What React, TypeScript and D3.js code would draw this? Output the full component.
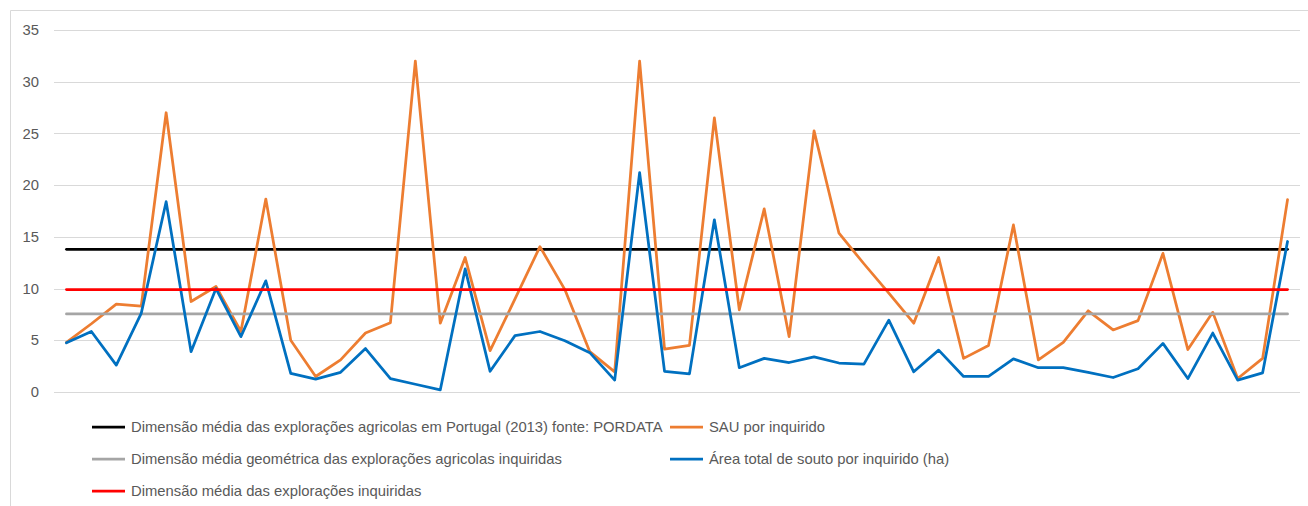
import React from "react";
import * as d3 from "d3";

const categories: number[] = d3.range(1, 51);

const sauPorInquirido: number[] = [
  4.8, 6.6, 8.5, 8.3, 27.0, 8.75, 10.2, 5.85, 18.65, 5.0,
  1.5, 3.1, 5.7, 6.7, 32.0, 6.65, 13.0, 4.0, 9.0, 14.05,
  9.9, 3.9, 1.95, 32.0, 4.15, 4.5, 26.5, 7.95, 17.7, 5.35,
  25.25, 15.35, 12.4, 9.55, 6.65, 13.0, 3.25, 4.5, 16.15, 3.1,
  4.8, 7.85, 6.0, 6.9, 13.4, 4.1, 7.7, 1.3, 3.25, 18.6,
];

const areaSouto: number[] = [
  4.75, 5.85, 2.6, 7.6, 18.4, 3.9, 10.0, 5.35, 10.75, 1.8,
  1.25, 1.9, 4.2, 1.3, 0.75, 0.2, 11.9, 2.0, 5.45, 5.85,
  4.95, 3.8, 1.15, 21.2, 2.0, 1.75, 16.65, 2.35, 3.25, 2.85,
  3.4, 2.8, 2.7, 6.95, 1.95, 4.05, 1.5, 1.5, 3.2, 2.35,
  2.35, 1.9, 1.4, 2.25, 4.7, 1.3, 5.7, 1.15, 1.85, 14.55,
];

const mediaPortugal = 13.8;
const mediaGeometrica = 7.55;
const mediaInquiridas = 9.9;

const yTicks: number[] = [0, 5, 10, 15, 20, 25, 30, 35];

const seriesNames = {
  portugal: "Dimensão média das explorações agricolas em Portugal (2013) fonte: PORDATA",
  sau: "SAU por inquirido",
  geom: "Dimensão média geométrica das explorações agricolas inquiridas",
  souto: "Área total de souto por inquirido (ha)",
  inquiridas: "Dimensão média das explorações inquiridas",
};

const W = 1308;
const H = 506;
const FONT = "'Liberation Sans', Arial, sans-serif";
const FS = 14.8;

export default function App() {
  const x = d3
    .scalePoint<number>()
    .domain(categories)
    .range([54, 1300])
    .padding(0.5);
  const y = d3.scaleLinear().domain([0, 35]).range([392, 30]);

  const line = d3
    .line<number>()
    .x((_, i) => x(categories[i]) as number)
    .y((d) => y(d));

  const constSeries = (v: number) => categories.map(() => v);

  const series = [
    { key: "portugal", values: constSeries(mediaPortugal), color: "#000000" },
    { key: "sau", values: sauPorInquirido, color: "#ED7D31" },
    { key: "geom", values: constSeries(mediaGeometrica), color: "#A5A5A5" },
    { key: "souto", values: areaSouto, color: "#0070C0" },
    { key: "inquiridas", values: constSeries(mediaInquiridas), color: "#FF0000" },
  ];

  const legendItems = [
    { key: "portugal", color: "#000000", x: 92, y: 427 },
    { key: "sau", color: "#ED7D31", x: 670, y: 427 },
    { key: "geom", color: "#A5A5A5", x: 92, y: 459 },
    { key: "souto", color: "#0070C0", x: 670, y: 459 },
    { key: "inquiridas", color: "#FF0000", x: 92, y: 491 },
  ];

  return (
    <svg
      width={W}
      height={H}
      style={{ position: "absolute", left: 0, top: 0, background: "#fff" }}
    >
      <rect x={0} y={0} width={W} height={H} fill="#fff" />
      {/* chart frame */}
      <line x1={10.5} y1={10.5} x2={W} y2={10.5} stroke="#D9D9D9" strokeWidth={1} />
      <line x1={10.5} y1={10.5} x2={10.5} y2={H} stroke="#D9D9D9" strokeWidth={1} />

      {/* gridlines */}
      {yTicks.map((t) => (
        <line
          key={t}
          x1={54}
          x2={1300}
          y1={Math.round(y(t)) + 0.5}
          y2={Math.round(y(t)) + 0.5}
          stroke="#D9D9D9"
          strokeWidth={1}
        />
      ))}
      {/* y tick labels */}
      {yTicks.map((t) => (
        <text
          key={"l" + t}
          x={39}
          y={y(t)}
          dy="0.35em"
          textAnchor="end"
          fontFamily={FONT}
          fontSize={FS}
          fill="#595959"
        >
          {t}
        </text>
      ))}

      {/* series */}
      {series.map((s) => (
        <path
          key={s.key}
          d={line(s.values) || ""}
          fill="none"
          stroke={s.color}
          strokeWidth={2.75}
          strokeLinejoin="round"
          strokeLinecap="round"
        />
      ))}

      {/* legend */}
      {legendItems.map((l) => (
        <g key={l.key}>
          <line
            x1={l.x}
            x2={l.x + 33}
            y1={l.y}
            y2={l.y}
            stroke={l.color}
            strokeWidth={2.75}
          />
          <text
            x={l.x + 39}
            y={l.y}
            dy="0.35em"
            fontFamily={FONT}
            fontSize={FS}
            fill="#595959"
          >
            {(seriesNames as any)[l.key]}
          </text>
        </g>
      ))}
    </svg>
  );
}
